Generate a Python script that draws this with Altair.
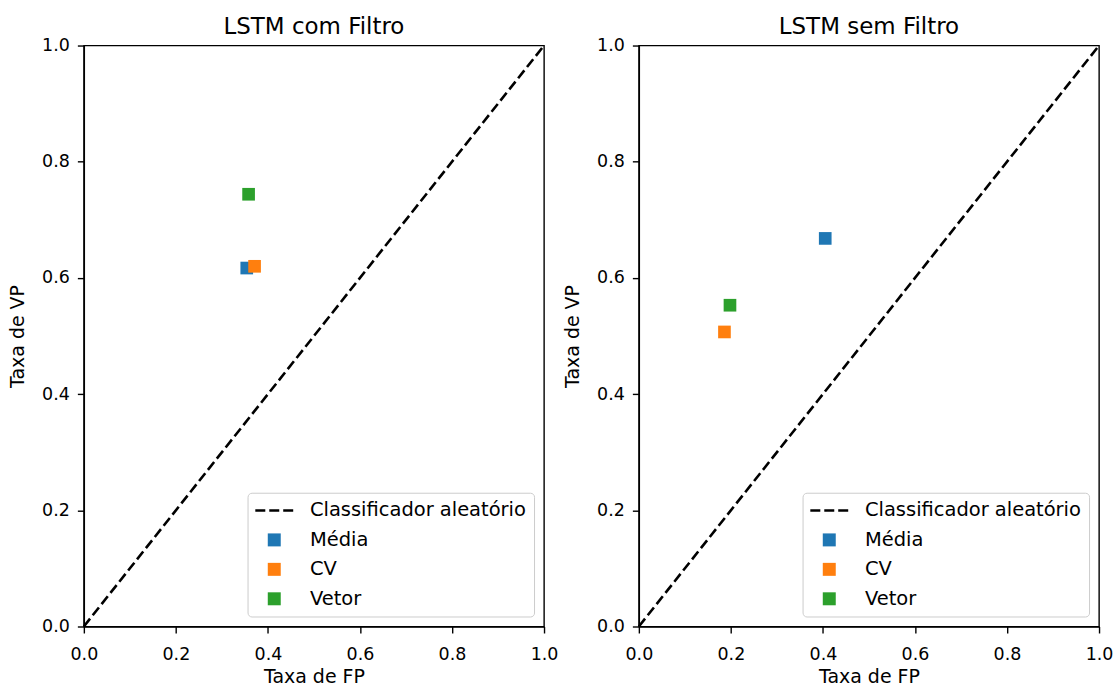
import altair as alt
import pandas as pd

# ROC-space points (false-positive rate, true-positive rate) per feature method
panel_titles = ["LSTM com Filtro", "LSTM sem Filtro"]
methods = ["Média", "CV", "Vetor"]
fp_com = [0.354, 0.371, 0.358]
vp_com = [0.617, 0.620, 0.744]
fp_sem = [0.405, 0.186, 0.198]
vp_sem = [0.668, 0.507, 0.553]

# chance diagonal
diag_label = "Classificador aleatório"
diag_fp = [0.0, 1.0]
diag_vp = [0.0, 1.0]

tick_values = [0.0, 0.2, 0.4, 0.6, 0.8, 1.0]
method_colors = ["#1f77b4", "#ff7f0e", "#2ca02c"]

# three short bars drawn as one legend glyph (units scale with sqrt(symbolSize)/2)
DASH_GLYPH = ("M-2.92,-0.2H-1.38V0.2H-2.92Z "
              "M-0.77,-0.2H0.77V0.2H-0.77Z "
              "M1.38,-0.2H2.92V0.2H1.38Z")

FONT = "DejaVu Sans"
PANEL_W, PANEL_H = 461, 582


def panel(title, fp, vp):
    pts = pd.DataFrame({"fp": fp, "vp": vp, "metodo": methods})
    diag = pd.DataFrame({"fp": diag_fp, "vp": diag_vp})

    x_scale = alt.Scale(domain=[0, 1], nice=False, zero=False)
    y_scale = alt.Scale(domain=[0, 1], nice=False, zero=False)
    x_axis = alt.Axis(values=tick_values, format=".1f", title="Taxa de FP",
                      labelFlush=False, labelOverlap=False,
                      labelPadding=12.5, titlePadding=5)
    y_axis = alt.Axis(values=tick_values, format=".1f", title="Taxa de VP",
                      labelFlush=False, labelOverlap=False,
                      labelPadding=8, titlePadding=14)

    line = alt.Chart(diag).mark_line(
        color="black", strokeDash=[10, 4.3], strokeWidth=2.6
    ).encode(
        x=alt.X("fp:Q", scale=x_scale, axis=x_axis),
        y=alt.Y("vp:Q", scale=y_scale, axis=y_axis),
    )

    legend = alt.Legend(title=None, orient="bottom-right")
    domain = [diag_label] + methods
    points = alt.Chart(pts).mark_point(filled=True, size=161, opacity=1).encode(
        x=alt.X("fp:Q", scale=x_scale, axis=x_axis),
        y=alt.Y("vp:Q", scale=y_scale, axis=y_axis),
        color=alt.Color("metodo:N",
                        scale=alt.Scale(domain=domain, range=["black"] + method_colors),
                        legend=legend),
        shape=alt.Shape("metodo:N",
                        scale=alt.Scale(domain=domain,
                                        range=[DASH_GLYPH, "square", "square", "square"]),
                        legend=legend),
    )

    return alt.layer(line, points).properties(
        width=PANEL_W,
        height=PANEL_H,
        title=alt.TitleParams(title, fontSize=23, font=FONT, fontWeight="normal",
                              color="black", anchor="middle", frame="group",
                              baseline="alphabetic", offset=-20),
    )


chart = alt.hconcat(
    panel(panel_titles[0], fp_com, vp_com),
    panel(panel_titles[1], fp_sem, vp_sem),
    spacing=3,
).resolve_legend(
    color="independent", shape="independent"
).properties(
    padding={"left": 7, "top": 14, "right": 5, "bottom": 0}
).configure_view(
    stroke="black", strokeWidth=1.4
).configure_axis(
    grid=False,
    domainColor="black", domainWidth=1.4,
    tickColor="black", tickWidth=1.4, tickSize=6.5,
    labelFont=FONT, labelFontSize=17.5, labelColor="black",
    titleFont=FONT, titleFontSize=19, titleFontWeight="normal", titleColor="black",
).configure_legend(
    labelFont=FONT, labelFontSize=19.5, labelColor="black", labelLimit=400,
    symbolSize=169, symbolStrokeWidth=0, labelOffset=26, symbolOffset=9,
    rowPadding=8.5, padding=8, offset=10,
    fillColor="rgba(255,255,255,0.8)", strokeColor="#cccccc", cornerRadius=4,
)

chart.save("out.html", embed_options={"renderer": "svg", "actions": False})
